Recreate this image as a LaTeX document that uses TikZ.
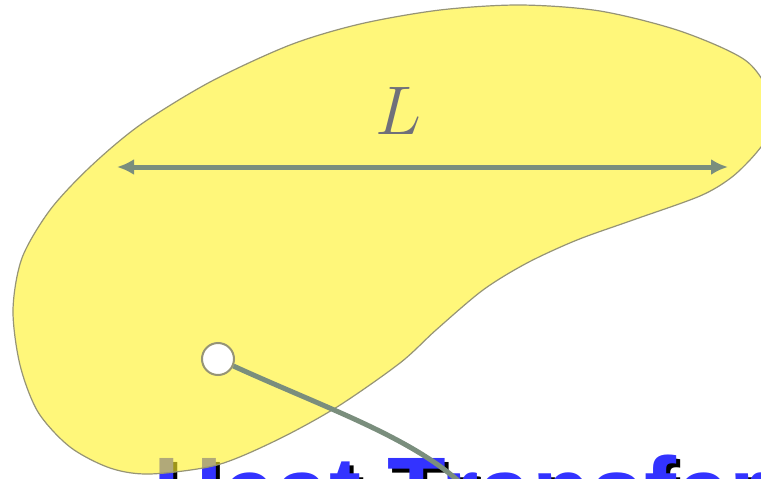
\documentclass[tikz,border=0pt]{standalone}
\usepackage{fontspec}
\newfontfamily\titlefont{Liberation Sans}
\usetikzlibrary{arrows.meta}

\definecolor{blobyellow}{RGB}{255,242,40}
\definecolor{blobedge}{RGB}{150,148,118}
\definecolor{probegreen}{RGB}{122,142,125}
\definecolor{labelgray}{RGB}{112,112,122}
\definecolor{heatblue}{RGB}{51,51,255}

\tikzset{
  heading/.style={anchor=base west, inner sep=0pt, font=\titlefont\bfseries\fontsize{96}{100}\selectfont},
  probe/.style={circle, draw=blobedge, line width=2pt, fill=white, minimum size=32pt, inner sep=0pt},
  dim/.style={draw=probegreen, line width=5pt, {Latex[length=17pt,width=16pt]}-{Latex[length=17pt,width=16pt]}},
  lead/.style={draw=probegreen, line width=5pt},
}

\begin{document}
\begin{tikzpicture}[x=1pt, y=-1pt]
    % Frame of the picture
    \clip (0,0) rectangle (761,479);

    % Title underneath, with its shadow
    \node[heading, text=black] (shadow) at (157,528) {Heat Transfer};
    \node[heading, text=heatblue] (title) at (153,524) {Heat Transfer};

    % The body
    \draw[blobedge, line width=1.2pt, fill=blobyellow, fill opacity=0.62]
      plot[smooth cycle, tension=0.5] coordinates {
        (520,5) (600,11) (680,31) (745,60) (770,95) (772,128) (757,152)
        (732,177) (700,196) (633,220) (577,240) (527,263) (483,290)
        (436,330) (400,363) (337,407) (277,440) (217,465) (150,474)
        (110,468) (70,447) (38,412) (20,365) (13,310) (22,258) (50,210)
        (90,167) (140,125) (210,82) (290,45) (360,24) (440,10)};

    % Length across the body
    \coordinate (left) at (117,167);
    \coordinate (right) at (728,167);
    \draw[dim] (left) -- (right);
    \node[text=labelgray, font=\Huge, scale=2.77, anchor=base, inner sep=0pt] (len) at (398,134) {$L$};

    % Probe point and its lead
    \node[probe] (probe) at (218,359) {};
    \coordinate (tail) at (470,492);
    \draw[lead] (probe) .. controls (330,410) and (420,440) .. (tail);
\end{tikzpicture}
\end{document}
